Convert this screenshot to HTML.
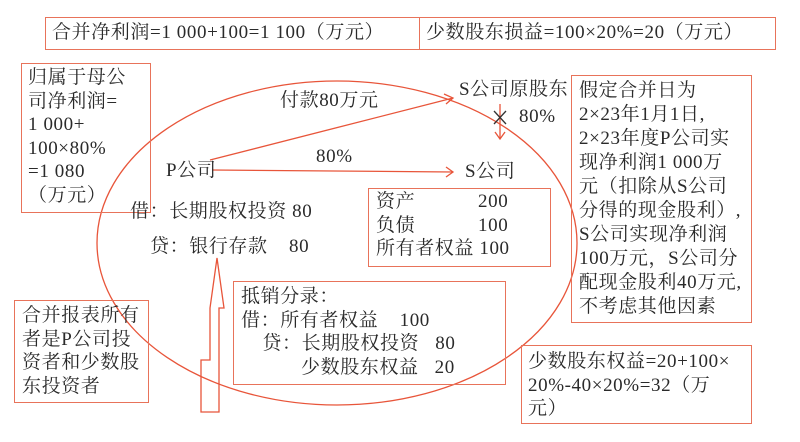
<!DOCTYPE html>
<html><head><meta charset="utf-8"><style>
body{margin:0;background:#fff}
#c{position:relative;width:800px;height:442px;overflow:hidden;font-family:"Liberation Serif","Noto Serif CJK SC","Noto Sans CJK SC",serif;font-size:19px;letter-spacing:0.6px;color:#2a2a2a}
.b{position:absolute;border:1.5px solid #e8735a;box-sizing:border-box}
.t{position:absolute;white-space:nowrap;line-height:23.5px}
</style></head><body><div id="c">
<svg width="800" height="442" style="position:absolute;left:0;top:0">
<ellipse cx="337" cy="243" rx="240" ry="162" fill="none" stroke="#e8553a" stroke-width="1.3"/>
<g stroke="#e8553a" stroke-width="1.3" fill="none">
<line x1="210" y1="160" x2="453" y2="98"/><polyline points="444,94 453,98 446,104"/>
<line x1="212" y1="170" x2="453" y2="172"/><polyline points="446,167 453,172 446,177"/>
<line x1="500" y1="104" x2="500" y2="139"/><polyline points="495,132 500,139 505,132"/>
<polygon points="217,258 224,308 219,308 219,412 201,412 201,360 210,360 210,308"/>
</g>
<g stroke="#333" stroke-width="1.3"><line x1="494" y1="111" x2="506" y2="124"/><line x1="506" y1="111" x2="494" y2="124"/></g>
</svg>
<div class="b" style="left:45px;top:17px;width:731px;height:33px"></div>
<div class="b" style="left:419px;top:17px;width:1px;height:33px;border-width:0 0 0 1.5px"></div>
<div class="t" style="left:52px;top:21px">合并净利润=1 000+100=1 100（万元）</div>
<div class="t" style="left:426px;top:21px">少数股东损益=100×20%=20（万元）</div>
<div class="b" style="left:21px;top:63px;width:130px;height:150px"></div>
<div class="t" style="left:28px;top:66px">归属于母公<br>司净利润=<br>1 000+<br>100×80%<br>=1 080<br>（万元）</div>
<div class="t" style="left:280px;top:89px">付款80万元</div>
<div class="t" style="left:459px;top:78px">S公司原股东</div>
<div class="t" style="left:519px;top:105px">80%</div>
<div class="t" style="left:316px;top:145px">80%</div>
<div class="t" style="left:166px;top:159px">P公司</div>
<div class="t" style="left:465px;top:160px">S公司</div>
<div class="t" style="left:130px;top:200px">借：长期股权投资 80</div>
<div class="t" style="left:150px;top:235px">贷：银行存款&nbsp;&nbsp;&nbsp;&nbsp;80</div>
<div class="b" style="left:368px;top:188px;width:183px;height:79px"></div>
<div class="t" style="left:376px;top:190px">资产<br>负债<br>所有者权益 100</div>
<div class="t" style="left:478px;top:190px">200<br>100</div>
<div class="b" style="left:571px;top:75px;width:181px;height:248px"></div>
<div class="t" style="left:579px;top:79px;line-height:24px">假定合并日为<br>2×23年1月1日,<br>2×23年度P公司实<br>现净利润1 000万<br>元（扣除从S公司<br>分得的现金股利）,<br>S公司实现净利润<br>100万元，S公司分<br>配现金股利40万元,<br>不考虑其他因素</div>
<div class="b" style="left:233px;top:281px;width:273px;height:104px"></div>
<div class="t" style="left:241px;top:285px">抵销分录：<br>借：所有者权益&nbsp;&nbsp;&nbsp;&nbsp;100<br>&nbsp;&nbsp;&nbsp;&nbsp;贷：长期股权投资&nbsp;&nbsp;&nbsp;80<br><span style="padding-left:60px">少数股东权益&nbsp;&nbsp;&nbsp;20</span></div>
<div class="b" style="left:14px;top:300px;width:135px;height:103px"></div>
<div class="t" style="left:22px;top:304px">合并报表所有<br>者是P公司投<br>资者和少数股<br>东投资者</div>
<div class="b" style="left:521px;top:345px;width:231px;height:79px"></div>
<div class="t" style="left:528px;top:350px">少数股东权益=20+100×<br>20%-40×20%=32（万<br>元）</div>
</div></body></html>
